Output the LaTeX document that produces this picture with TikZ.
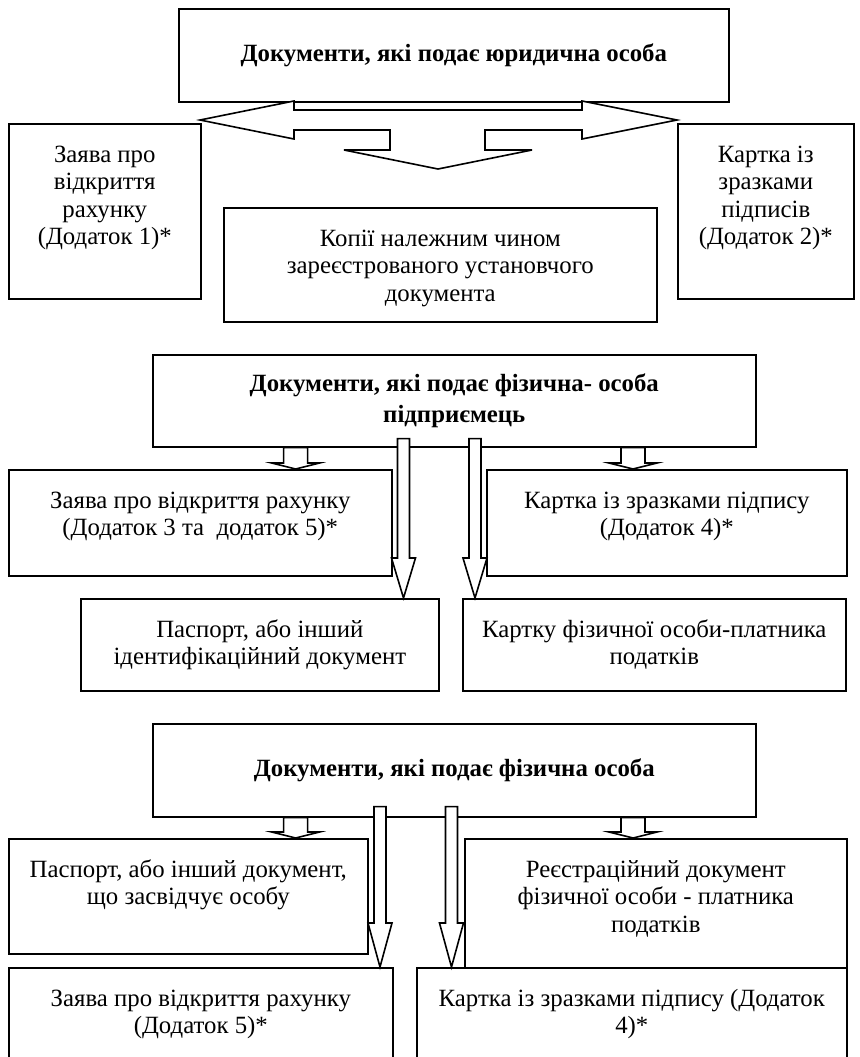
\documentclass[tikz,border=0pt]{standalone}
\usepackage{fontspec}
\setmainfont{Liberation Serif}
\usetikzlibrary{calc}

\newcommand{\boxtext}[3]{\parbox[c][#2][t]{#1}{\centering\vspace*{9.5pt}\strut#3\par}}
\newcommand{\blockdown}[5]{\draw[blk] let \p1=(#1), \p2=(#2) in
  (\x1-#3,\y1) -- (\x1+#3,\y1) -- (\x1+#3,\y2+#5) -- (\x1+#4,\y2+#5) -- (\x1,\y2)
  -- (\x1-#4,\y2+#5) -- (\x1-#3,\y2+#5) -- cycle;}

\begin{document}
\begin{tikzpicture}[x=0.5pt,y=-0.5pt,
    every node/.style={font=\fontsize{12.4}{13.8}\selectfont},
    doc/.style={draw,line width=0.8pt,anchor=north west,inner sep=0pt},
    head/.style={doc,align=center,font=\bfseries\fontsize{12.4}{15.5}\selectfont},
    blk/.style={draw,fill=white,line width=0.8pt,line join=miter}]
  \useasboundingbox (0,0) rectangle (860,1057);
  \clip (0,0) rectangle (860,1057);

  \node[head,minimum width=275pt,minimum height=46.5pt] (t1) at (178,8) {Документи, які подає юридична особа};
  \node[doc] (l1) at (8,123) {\boxtext{96pt}{87.5pt}{Заява про\\відкриття\\рахунку\\(Додаток 1)*}};
  \node[doc] (r1) at (677,123) {\boxtext{88pt}{87.5pt}{Картка із\\зразками\\підписів\\(Додаток 2)*}};
  \node[doc] (c1) at (223,207) {\boxtext{216.5pt}{57pt}{Копії належним чином\\зареєстрованого установчого\\документа}};
  \draw[blk] (200,120) -- (294,101) -- (294,110) -- (582,110) -- (582,101) -- (677,120)
    -- (582,139) -- (582,130) -- (485,130) -- (485,150) -- (532,150) -- (438,169)
    -- (344,150) -- (390,150) -- (390,130) -- (294,130) -- (294,139) -- cycle;

  \node[head,minimum width=301.5pt,minimum height=46pt] (t2) at (152,354) {Документи, які подає фізична- особа\\підприємець};
  \node[doc] (l2) at (8,469) {\boxtext{191.5pt}{53pt}{Заява про відкриття рахунку\\(Додаток 3 та\ \ додаток 5)*}};
  \node[doc] (r2) at (486,469) {\boxtext{180pt}{53pt}{Картка із зразками підпису\\(Додаток 4)*}};
  \node[doc] (p2) at (80,598) {\boxtext{179pt}{46pt}{Паспорт, або інший\\ідентифікаційний документ}};
  \node[doc] (k2) at (462,598) {\boxtext{191.5pt}{46pt}{Картку фізичної особи-платника\\податків}};

  \node[head,minimum width=301.5pt,minimum height=46.5pt] (t3) at (152,723) {Документи, які подає фізична особа};
  \node[doc] (p3) at (8,838) {\boxtext{179.5pt}{57.5pt}{Паспорт, або інший документ,\\що засвідчує особу}};
  \node[doc] (r3) at (464,838) {\boxtext{191pt}{64.5pt}{Реєстраційний документ\\фізичної особи - платника\\податків}};
  \node[doc] (z3) at (8,967) {\boxtext{192pt}{54pt}{Заява про відкриття рахунку\\(Додаток 5)*}};
  \node[doc] (k3) at (416,967) {\boxtext{215pt}{54pt}{Картка із зразками підпису (Додаток\\4)*}};

  \coordinate (sl) at (295.6,0);
  \coordinate (sr) at (633,0);
  \coordinate (ll2) at (403.5,0);
  \coordinate (lr2) at (475,0);
  \coordinate (ll3) at (380,0);
  \coordinate (lr3) at (451.5,0);

  \blockdown{t2.south -| sl}{l2.north -| sl}{6pt}{12pt}{3pt}
  \blockdown{t2.south -| sr}{r2.north -| sr}{6pt}{12pt}{3pt}
  \blockdown{$(t2.south -| ll2)+(0,-9)$}{p2.north -| ll2}{3pt}{6pt}{20pt}
  \blockdown{$(t2.south -| lr2)+(0,-9)$}{k2.north -| lr2}{3pt}{6pt}{20pt}

  \blockdown{t3.south -| sl}{p3.north -| sl}{6pt}{12pt}{3pt}
  \blockdown{t3.south -| sr}{r3.north -| sr}{6pt}{12pt}{3pt}
  \blockdown{$(t3.south -| ll3)+(0,-11)$}{z3.north -| ll3}{3pt}{6pt}{22pt}
  \blockdown{$(t3.south -| lr3)+(0,-11)$}{k3.north -| lr3}{3pt}{6pt}{22pt}
\end{tikzpicture}
\end{document}
